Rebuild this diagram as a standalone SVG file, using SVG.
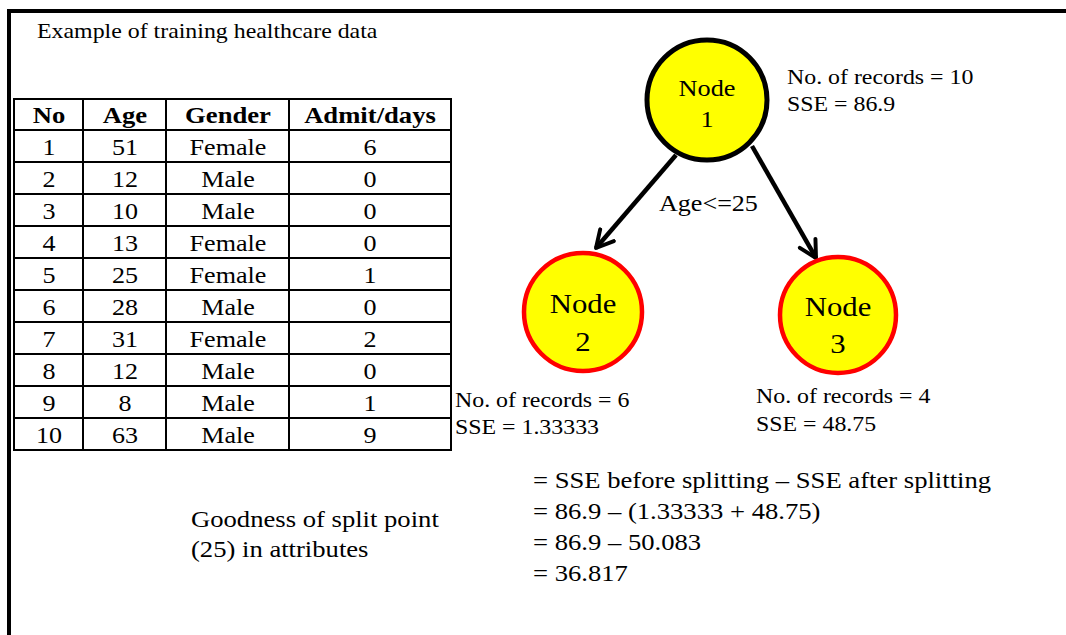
<svg xmlns="http://www.w3.org/2000/svg" width="1066" height="635" viewBox="0 0 1066 635">
<defs>
<style>
text{font-family:"Liberation Serif","Times New Roman",serif;fill:#000;transform-box:fill-box}
.l{transform:scaleX(1.11);transform-origin:left center}
.m{text-anchor:middle;transform:scaleX(1.11);transform-origin:center}
.t{font-size:21.5px}
.h{font-size:24px;font-weight:bold}
.c{font-size:23.5px}
.n1{font-size:23.7px}
.n2{font-size:27.7px}
.b{font-size:24px}
.grid{stroke:#000;stroke-width:2;fill:none}
.edge{stroke:#000;stroke-width:4.5;fill:none}
</style>
<marker id="arr" viewBox="0 0 20 20" refX="17" refY="10" markerWidth="5" markerHeight="5" orient="auto" markerUnits="strokeWidth">
<path d="M2,2 L17,10 L2,18" fill="none" stroke="#000" stroke-width="3.5" stroke-linecap="round" stroke-linejoin="round"/>
</marker>
</defs>
<rect width="1066" height="635" fill="#fff"/>
<path d="M9,635 V11 H1066" fill="none" stroke="#000" stroke-width="4"/>
<text class="t l" x="37" y="38">Example of training healthcare data</text>

<g id="table">
<rect class="grid" x="14" y="99" width="437" height="351"/>
<path class="grid" d="M83,99V450M166,99V450M289,99V450M14,130H451M14,162H451M14,194H451M14,226H451M14,258H451M14,290H451M14,322H451M14,354H451M14,386H451M14,418H451"/>
<text class="h m" x="49" y="123">No</text><text class="h m" x="125" y="123">Age</text><text class="h m" x="228" y="123">Gender</text><text class="h m" x="370" y="123">Admit/days</text>
<text class="c m" x="49" y="155">1</text><text class="c m" x="125" y="155">51</text><text class="c m" x="228" y="155">Female</text><text class="c m" x="370" y="155">6</text>
<text class="c m" x="49" y="187">2</text><text class="c m" x="125" y="187">12</text><text class="c m" x="228" y="187">Male</text><text class="c m" x="370" y="187">0</text>
<text class="c m" x="49" y="219">3</text><text class="c m" x="125" y="219">10</text><text class="c m" x="228" y="219">Male</text><text class="c m" x="370" y="219">0</text>
<text class="c m" x="49" y="251">4</text><text class="c m" x="125" y="251">13</text><text class="c m" x="228" y="251">Female</text><text class="c m" x="370" y="251">0</text>
<text class="c m" x="49" y="283">5</text><text class="c m" x="125" y="283">25</text><text class="c m" x="228" y="283">Female</text><text class="c m" x="370" y="283">1</text>
<text class="c m" x="49" y="315">6</text><text class="c m" x="125" y="315">28</text><text class="c m" x="228" y="315">Male</text><text class="c m" x="370" y="315">0</text>
<text class="c m" x="49" y="347">7</text><text class="c m" x="125" y="347">31</text><text class="c m" x="228" y="347">Female</text><text class="c m" x="370" y="347">2</text>
<text class="c m" x="49" y="379">8</text><text class="c m" x="125" y="379">12</text><text class="c m" x="228" y="379">Male</text><text class="c m" x="370" y="379">0</text>
<text class="c m" x="49" y="411">9</text><text class="c m" x="125" y="411">8</text><text class="c m" x="228" y="411">Male</text><text class="c m" x="370" y="411">1</text>
<text class="c m" x="49" y="443">10</text><text class="c m" x="125" y="443">63</text><text class="c m" x="228" y="443">Male</text><text class="c m" x="370" y="443">9</text>
</g>

<g id="connectors">
<line class="edge" x1="676" y1="155" x2="596" y2="248" marker-end="url(#arr)"/>
<line class="edge" x1="752" y1="146" x2="816" y2="258" marker-end="url(#arr)"/>
<text class="l" x="659" y="211" style="font-size:23.5px">Age&lt;=25</text>
</g>

<g id="node1">
<circle cx="707" cy="100" r="60" fill="#ffff00" stroke="#000" stroke-width="5"/>
<text class="n1 m" x="707" y="96">Node</text>
<text class="n1 m" x="707" y="127">1</text>
<text class="t l" x="787" y="84">No. of records = 10</text>
<text class="t l" x="787" y="111">SSE = 86.9</text>
</g>

<g id="node2">
<circle cx="583" cy="312" r="59" fill="#ffff00" stroke="#ff0000" stroke-width="4.5"/>
<text class="n2 m" x="583" y="313">Node</text>
<text class="n2 m" x="583" y="351">2</text>
<text class="t l" x="455" y="407">No. of records = 6</text>
<text class="t l" x="455" y="434">SSE = 1.33333</text>
</g>

<g id="node3">
<circle cx="838" cy="315" r="58" fill="#ffff00" stroke="#ff0000" stroke-width="4.5"/>
<text class="n2 m" x="838" y="316">Node</text>
<text class="n2 m" x="838" y="353">3</text>
<text class="t l" x="756" y="403">No. of records = 4</text>
<text class="t l" x="756" y="431">SSE = 48.75</text>
</g>

<g id="goodness">
<text class="b l" x="191" y="527">Goodness of split point</text>
<text class="b l" x="191" y="557">(25) in attributes</text>
<text class="b l" x="533" y="488" style="transform:scaleX(1.11)">= SSE before splitting – SSE after splitting</text>
<text class="b l" x="533" y="519">= 86.9 – (1.33333 + 48.75)</text>
<text class="b l" x="533" y="550">= 86.9 – 50.083</text>
<text class="b l" x="533" y="581">= 36.817</text>
</g>
</svg>
